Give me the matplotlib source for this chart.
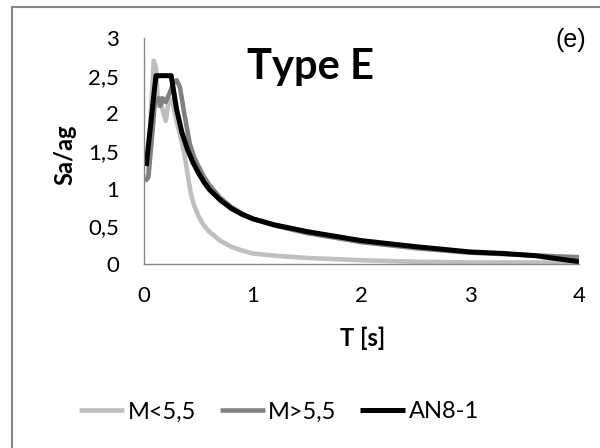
import matplotlib
matplotlib.use('Agg')

import matplotlib.pyplot as plt
import matplotlib.patches as mpatches

# spectra (T in s, Sa/ag)
t_small = [0.01, 0.04, 0.07, 0.09, 0.11, 0.13, 0.15, 0.17, 0.2, 0.23, 0.26,
           0.3, 0.35, 0.37, 0.4, 0.43, 0.46, 0.5, 0.55, 0.6, 0.7, 0.8, 0.9,
           1.0, 1.2, 1.5, 2.0, 2.5, 3.0, 4.0]
sa_small = [1.1, 1.2, 2.2, 2.7, 2.6, 2.1, 2.2, 2.05, 1.9, 2.2, 2.15,
            1.9, 1.6, 1.47, 1.2, 0.94, 0.78, 0.64, 0.51, 0.43, 0.31, 0.23, 0.18,
            0.14, 0.11, 0.08, 0.05, 0.03, 0.02, 0.02]

t_large = [0.01, 0.04, 0.08, 0.1, 0.13, 0.15, 0.17, 0.2, 0.23, 0.27, 0.3,
           0.33, 0.37, 0.42, 0.46, 0.5, 0.55, 0.6, 0.7, 0.8, 0.9, 1.0, 1.2,
           1.5, 2.0, 2.5, 3.0, 3.5, 4.0]
sa_large = [1.1, 1.15, 1.8, 2.15, 2.2, 2.1, 2.2, 2.15, 2.25, 2.4, 2.44,
            2.35, 2.0, 1.6, 1.42, 1.3, 1.16, 1.05, 0.88, 0.76, 0.67, 0.6, 0.51,
            0.41, 0.29, 0.21, 0.15, 0.12, 0.09]

t_code = [0.02, 0.11, 0.25, 0.3, 0.35, 0.4, 0.45, 0.5, 0.55, 0.6, 0.7, 0.8,
          0.9, 1.0, 1.2, 1.5, 2.0, 2.5, 3.0, 3.3, 3.6, 4.0]
sa_code = [1.3, 2.5, 2.5, 2.05, 1.74, 1.52, 1.35, 1.21, 1.09, 0.99, 0.85, 0.74,
           0.66, 0.6, 0.52, 0.43, 0.31, 0.23, 0.16, 0.14, 0.11, 0.03]

series = [
    ("M<5,5", t_small, sa_small, '#bfbfbf'),
    ("M>5,5", t_large, sa_large, '#808080'),
    ("AN8-1", t_code, sa_code, '#000000'),
]

x_ticks = [0, 1, 2, 3, 4]
y_ticks = [0, 0.5, 1, 1.5, 2, 2.5, 3]


def fmt(v):
    s = "{:g}".format(v)
    return s.replace('.', ',')


def main():
    plt.rcParams['font.family'] = ['Lato', 'DejaVu Sans']

    fig = plt.figure(figsize=(6.0, 4.48), dpi=100)

    # chart area border (Excel style)
    fig.patches.append(mpatches.Rectangle((11.5 / 600, -0.1), 1.2, 1 - 7.5 / 448 + 0.1,
                                          transform=fig.transFigure, fill=False,
                                          edgecolor='#868686', linewidth=1.5))

    ax = fig.add_axes([144 / 600, 1 - 264 / 448, (579 - 144) / 600, (264 - 38) / 448])

    for name, t, sa, col in series:
        lw = 3.6 if col == '#000000' else 3.3
        ax.plot(t, sa, color=col, linewidth=lw, label=name,
                solid_joinstyle='round', solid_capstyle='butt')

    ax.set_xlim(0, 4)
    ax.set_ylim(0, 3)
    ax.set_xticks(x_ticks)
    ax.set_xticklabels([fmt(v) for v in x_ticks])
    ax.set_yticks(y_ticks)
    ax.set_yticklabels([fmt(v) for v in y_ticks])
    ax.tick_params(length=0, labelsize=16)
    ax.tick_params(axis='y', pad=18)
    ax.tick_params(axis='x', pad=16)

    for side in ['top', 'right']:
        ax.spines[side].set_visible(False)
    for side in ['left', 'bottom']:
        ax.spines[side].set_color('#868686')
        ax.spines[side].set_linewidth(1.0)

    fig.text(65 / 600, 1 - 155 / 448, "Sa/ag", rotation=90, fontsize=17,
             fontweight='bold', ha='center', va='center')
    fig.text(363 / 600, 1 - 338 / 448, "T [s]", fontsize=17,
             fontweight='bold', ha='center', va='center')
    fig.text(310 / 600, 1 - 67 / 448, "Type E", fontsize=30,
             fontweight='bold', ha='center', va='center')
    fig.text(571 / 600, 1 - 40 / 448, "(e)", fontsize=18,
             family='Liberation Sans', ha='center', va='center')

    fig.legend(loc='center', bbox_to_anchor=(279 / 600, 1 - 412 / 448), ncol=3,
               frameon=False, fontsize=17, handlelength=1.9, handletextpad=0.15,
               columnspacing=1.0)

    plt.savefig('out.png', dpi=100)


if __name__ == "__main__":
    main()
